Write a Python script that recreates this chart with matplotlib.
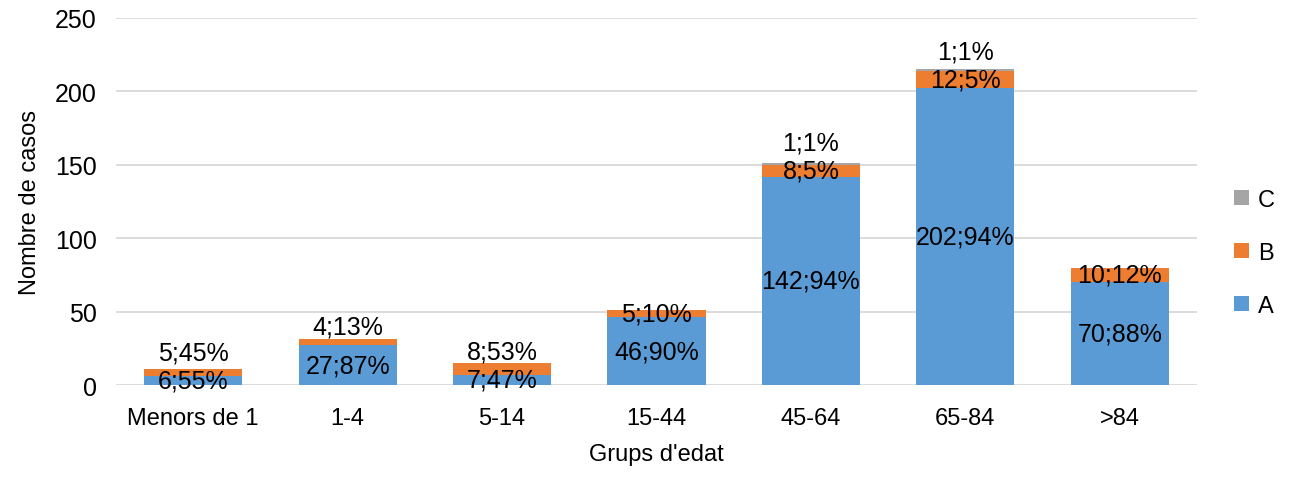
import numpy as np
import matplotlib
matplotlib.use('Agg')
import matplotlib.pyplot as plt

plt.rcParams['font.family'] = ['Liberation Sans', 'DejaVu Sans']

# Data
groups = ['Menors de 1', '1-4', '5-14', '15-44', '45-64', '65-84', '>84']
a_vals = [6, 27, 7, 46, 142, 202, 70]
b_vals = [5, 4, 8, 5, 8, 12, 10]
c_vals = [0, 0, 0, 0, 1, 1, 0]
a_pct = [55, 87, 47, 90, 94, 94, 88]
b_pct = [45, 13, 53, 10, 5, 5, 12]
c_pct = [0, 0, 0, 0, 1, 1, 0]

col_a = '#5B9BD5'
col_b = '#ED7D31'
col_c = '#A5A5A5'

fig = plt.figure(figsize=(12.9, 4.81), dpi=100)
ax = fig.add_axes([0.0899, 0.1975, 0.838, 0.763])

x = np.arange(len(groups))
a = np.array(a_vals)
b = np.array(b_vals)
c = np.array(c_vals)
w = 0.635

ba = ax.bar(x, a, w, color=col_a, label='A', zorder=2)
bb = ax.bar(x, b, w, bottom=a, color=col_b, label='B', zorder=2)
bc = ax.bar(x, c, w, bottom=a + b, color=col_c, label='C', zorder=2)

ax.set_ylim(0, 250)
ax.set_xlim(-0.5, len(groups) - 0.5)
ax.set_yticks(np.arange(0, 251, 50))
ax.yaxis.grid(True, color='#D9D9D9', linewidth=1.3, zorder=0)
ax.set_axisbelow(True)
for s in ax.spines.values():
    s.set_visible(False)
ax.tick_params(length=0, labelsize=18, colors='black')
ax.tick_params(axis='x', labelsize=17, pad=16)
ax.tick_params(axis='y', pad=14)
ax.set_xticks(x)
ax.set_xticklabels(groups)
ax.set_xlabel("Grups d'edat", fontsize=17, labelpad=10)
ax.set_ylabel('Nombre de casos', fontsize=17, labelpad=10)

# data labels: keep them apart when segments are thin
px_per_unit = ax.bbox.height / 250.0
gap = 28 / px_per_unit
for i in range(len(groups)):
    ya = max(a[i] / 2, 2.5)
    ax.text(x[i], ya, f'{a_vals[i]};{a_pct[i]}%', ha='center', va='center',
            fontsize=18, zorder=3)
    yb = a[i] + b[i] / 2
    if yb - ya < gap:
        yb = ya + gap
    # thin top segment on a short bar: label sits just above the bar
    if b[i] < 6 and 20 < a[i] < 40:
        yb = a[i] + b[i] + 9
    ax.text(x[i], yb, f'{b_vals[i]};{b_pct[i]}%', ha='center', va='center',
            fontsize=18, zorder=3)
    if c[i] > 0:
        yc = a[i] + b[i] + c[i] + 6
        if yc - yb < gap:
            yc = yb + gap
        ax.text(x[i], yc, f'{c_vals[i]};{c_pct[i]}%', ha='center', va='center',
                fontsize=18, zorder=3)

handles = [bc, bb, ba]
leg = ax.legend(handles, ['C', 'B', 'A'], loc='center left',
                bbox_to_anchor=(1.015, 0.36), frameon=False, fontsize=17,
                handlelength=0.6, handleheight=0.6, labelspacing=1.3,
                handletextpad=0.4)

fig.savefig('out.png', dpi=100)
